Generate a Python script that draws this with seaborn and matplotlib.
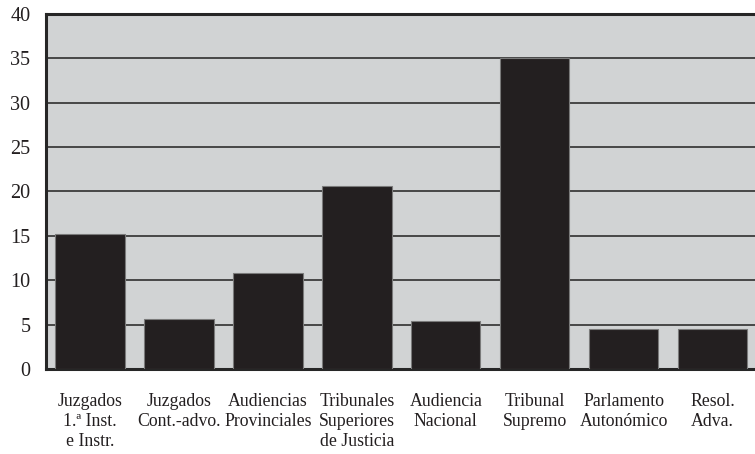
import matplotlib
matplotlib.use("Agg")
import matplotlib.pyplot as plt
import seaborn as sns
import pandas as pd
import numpy as np

categories = [
    "Juzgados\n1.ª Inst.\ne Instr.",
    "Juzgados\nCont.-advo.",
    "Audiencias\nProvinciales",
    "Tribunales\nSuperiores\nde Justicia",
    "Audiencia\nNacional",
    "Tribunal\nSupremo",
    "Parlamento\nAutonómico",
    "Resol.\nAdva.",
]
values = [15.2, 5.6, 10.8, 20.6, 5.35, 35.0, 4.5, 4.5]
y_ticks = [0, 5, 10, 15, 20, 25, 30, 35, 40]

sns.set_theme(style="white")
plt.rcParams["font.family"] = ["Liberation Serif", "DejaVu Serif"]

df = pd.DataFrame({"cat": categories, "val": values})

W, H = 755, 454
fig = plt.figure(figsize=(W / 100, H / 100), dpi=100)
left, right, top, bottom = 45.7, 757.0, 13.7, 369.0
ax = fig.add_axes([left / W, 1 - bottom / H, (right - left) / W, (bottom - top) / H])
ax.set_facecolor("#d1d3d4")

sns.barplot(data=df, x="cat", y="val", color="#231f20", width=0.78,
            edgecolor="#7a7a7a", linewidth=0.8, saturation=1, ax=ax, zorder=3)

ax.set_ylim(0, 40)
ax.set_xlim(-0.5, len(categories) - 0.5)
ax.set_yticks(y_ticks)
ax.set_yticklabels([str(t) for t in y_ticks])
ax.yaxis.grid(True, color="#3c3c3c", linewidth=1.3, zorder=1)
ax.xaxis.grid(False)
ax.set_axisbelow(True)

ax.set_xlabel("")
ax.set_ylabel("")
ax.tick_params(axis="y", length=0, pad=11, labelsize=14.5, labelcolor="#231f20")
ax.tick_params(axis="x", which="major", length=0, pad=17, labelsize=12.8, labelcolor="#231f20")
ax.set_xticks(np.arange(0.5, len(categories) - 0.5, 1.0), minor=True)
ax.tick_params(axis="x", which="minor", direction="in", length=5, width=1.2, color="#3c3c3c")
for lab in ax.get_xticklabels():
    lab.set_linespacing(1.25)
    lab.set_verticalalignment("top")

for side in ["left", "top", "bottom"]:
    ax.spines[side].set_visible(True)
    ax.spines[side].set_color("#262626")
    ax.spines[side].set_linewidth(2.2)
ax.spines["right"].set_visible(False)

fig.savefig("out.png", dpi=100)
